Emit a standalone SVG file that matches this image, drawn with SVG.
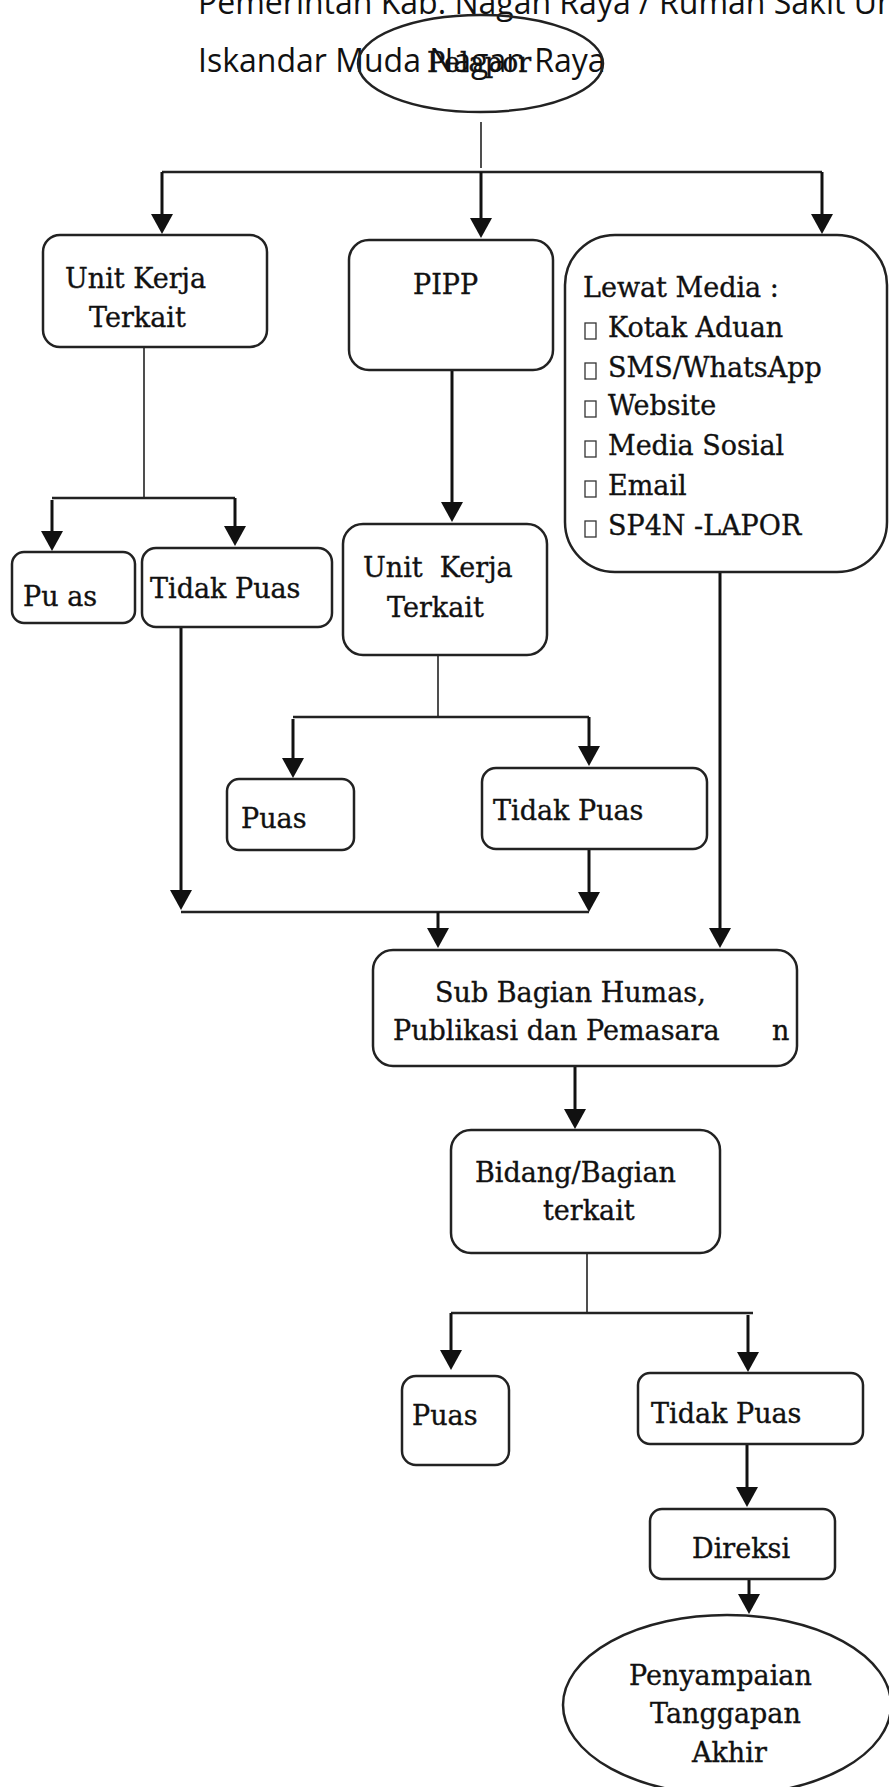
<svg xmlns="http://www.w3.org/2000/svg" width="889" height="1787" viewBox="0 0 889 1787">
<style>
.box{fill:#fff;stroke:#222;stroke-width:2.5}
.ell{fill:none;stroke:#222;stroke-width:2.5}
.t{font-family:"DejaVu Serif","Liberation Serif",serif;font-size:27px;fill:#111;stroke:#111;stroke-width:0.35}
.title{font-family:"Open Sans","Noto Sans",sans-serif;font-size:32px;fill:#111}
.thin{stroke:#222;stroke-width:1.6;fill:none}
.bar{stroke:#222;stroke-width:2.4;fill:none}
.arr{stroke:#111;stroke-width:3;fill:none;marker-end:url(#ah)}
.tofu{fill:#fff;stroke:#333;stroke-width:1.3}
</style>
<defs>
<marker id="ah" markerUnits="userSpaceOnUse" viewBox="0 0 20 22" refX="10" refY="11" markerWidth="20" markerHeight="22" orient="auto">
<path d="M0,0 L20,11 L0,22 Z" fill="#111"/>
</marker>
</defs>
<rect width="889" height="1787" fill="#fff"/>

<g id="title">
<text class="title" x="198" y="14">Pemerintah Kab. Nagan Raya / Rumah Sakit Um</text>
<text class="title" x="198" y="72">Iskandar Muda Nagan Raya</text>
</g>

<g id="pelapor">
<ellipse class="ell" cx="480.5" cy="63.5" rx="122.5" ry="48.5"/>
<text class="t" x="427" y="72" font-size="25" fill="#1a2a4a" stroke="none">Pelapor</text>
</g>

<g id="connectors">
<line class="thin" x1="481" y1="122" x2="481" y2="168"/>
<line class="bar" x1="162" y1="172" x2="822" y2="172"/>
<line class="arr" x1="162" y1="172" x2="162" y2="224"/>
<line class="arr" x1="481" y1="172" x2="481" y2="228"/>
<line class="arr" x1="822" y1="172" x2="822" y2="224"/>

<line class="thin" x1="144" y1="347" x2="144" y2="498"/>
<line class="bar" x1="52" y1="498" x2="235" y2="498"/>
<line class="arr" x1="52" y1="500" x2="52" y2="541"/>
<line class="arr" x1="235" y1="498" x2="235" y2="536"/>

<line class="arr" x1="452" y1="370" x2="452" y2="512"/>

<line class="thin" x1="438" y1="655" x2="438" y2="717"/>
<line class="bar" x1="293" y1="717" x2="589" y2="717"/>
<line class="arr" x1="293" y1="719" x2="293" y2="768"/>
<line class="arr" x1="589" y1="717" x2="589" y2="756"/>

<line class="arr" x1="181" y1="627" x2="181" y2="900"/>
<line class="arr" x1="589" y1="847" x2="589" y2="902"/>
<line class="bar" x1="181" y1="912" x2="589" y2="912"/>
<line class="arr" x1="438" y1="912" x2="438" y2="938"/>

<line class="arr" x1="720" y1="572" x2="720" y2="938"/>

<line class="arr" x1="575" y1="1066" x2="575" y2="1119"/>

<line class="thin" x1="587" y1="1253" x2="587" y2="1313"/>
<line class="bar" x1="451" y1="1313" x2="753" y2="1313"/>
<line class="arr" x1="451" y1="1313" x2="451" y2="1360"/>
<line class="arr" x1="748" y1="1315" x2="748" y2="1362"/>

<line class="arr" x1="747" y1="1436" x2="747" y2="1497"/>
<line class="arr" x1="749" y1="1579" x2="749" y2="1604"/>
</g>

<g id="unit-kerja-1">
<rect class="box" x="43" y="235" width="224" height="112" rx="17"/>
<text class="t" x="65" y="288">Unit Kerja</text>
<text class="t" x="89" y="327">Terkait</text>
</g>

<g id="pipp">
<rect class="box" x="349" y="240" width="204" height="130" rx="20"/>
<text class="t" x="413" y="294">PIPP</text>
</g>

<g id="lewat-media">
<rect class="box" x="565" y="235" width="322" height="337" rx="50"/>
<text class="t" x="583" y="297">Lewat Media&#160;:</text>
<rect class="tofu" x="585" y="323" width="11" height="16"/>
<text class="t" x="608" y="337">Kotak Aduan</text>
<rect class="tofu" x="585" y="363" width="11" height="16"/>
<text class="t" x="608" y="377">SMS/WhatsApp</text>
<rect class="tofu" x="585" y="401" width="11" height="16"/>
<text class="t" x="608" y="415">Website</text>
<rect class="tofu" x="585" y="441" width="11" height="16"/>
<text class="t" x="608" y="455">Media Sosial</text>
<rect class="tofu" x="585" y="481" width="11" height="16"/>
<text class="t" x="608" y="495">Email</text>
<rect class="tofu" x="585" y="521" width="11" height="16"/>
<text class="t" x="608" y="535">SP4N -LAPOR</text>
</g>

<g id="puas-1">
<rect class="box" x="12" y="552" width="123" height="71" rx="12"/>
<text class="t" x="23" y="606">Pu as</text>
</g>

<g id="tidak-puas-1">
<rect class="box" x="142" y="548" width="190" height="79" rx="14"/>
<text class="t" x="150" y="598">Tidak Puas</text>
</g>

<g id="unit-kerja-2">
<rect class="box" x="343" y="524" width="204" height="131" rx="20"/>
<text class="t" x="363" y="577">Unit&#160; Kerja</text>
<text class="t" x="387" y="617">Terkait</text>
</g>

<g id="puas-2">
<rect class="box" x="227" y="779" width="127" height="71" rx="12"/>
<text class="t" x="241" y="828">Puas</text>
</g>

<g id="tidak-puas-2">
<rect class="box" x="482" y="768" width="225" height="81" rx="14"/>
<text class="t" x="493" y="820">Tidak Puas</text>
</g>

<g id="sub-bagian">
<rect class="box" x="373" y="950" width="424" height="116" rx="20"/>
<text class="t" x="435" y="1002">Sub Bagian Humas,</text>
<text class="t" x="393" y="1040">Publikasi dan Pemasara</text>
<text class="t" x="772" y="1040">n</text>
</g>

<g id="bidang">
<rect class="box" x="451" y="1130" width="269" height="123" rx="20"/>
<text class="t" x="475" y="1182">Bidang/Bagian</text>
<text class="t" x="543" y="1220">terkait</text>
</g>

<g id="puas-3">
<rect class="box" x="402" y="1376" width="107" height="89" rx="14"/>
<text class="t" x="412" y="1425">Puas</text>
</g>

<g id="tidak-puas-3">
<rect class="box" x="638" y="1373" width="225" height="71" rx="12"/>
<text class="t" x="651" y="1423">Tidak Puas</text>
</g>

<g id="direksi">
<rect class="box" x="650" y="1509" width="185" height="70" rx="12"/>
<text class="t" x="692" y="1558">Direksi</text>
</g>

<g id="penyampaian">
<ellipse class="box" cx="727" cy="1705" rx="164" ry="90"/>
<text class="t" x="629" y="1685">Penyampaian</text>
<text class="t" x="650" y="1723">Tanggapan</text>
<text class="t" x="692" y="1762">Akhir</text>
</g>
</svg>
